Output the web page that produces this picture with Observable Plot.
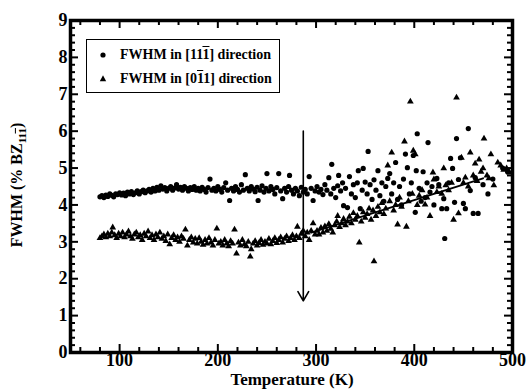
<!DOCTYPE html>
<html><head><meta charset="utf-8">
<script src="https://cdn.jsdelivr.net/npm/d3@7"></script>
<script src="https://cdn.jsdelivr.net/npm/@observablehq/plot@0.6"></script>
<style>
body{margin:0;background:#fff;}
#wrap{position:relative;width:526px;height:391px;font-family:"Liberation Serif","Times New Roman",serif;font-weight:bold;color:#000;}
#legend{position:absolute;left:86px;top:39px;width:192px;height:52px;border:1.5px solid #000;background:#fff;font-size:14px;}
.row{position:absolute;left:0;height:16px;line-height:16px;white-space:nowrap;}
.row svg{position:absolute;left:10px;top:2px;}
.row span.t{position:absolute;left:33px;top:0;}
.ov{text-decoration:overline;}
#xlab{position:absolute;left:0;width:526px;top:371px;line-height:17px;text-align:center;font-size:17px;padding-left:58px;box-sizing:border-box;}
#ylab{position:absolute;left:18px;top:185px;transform:translate(-50%,-50%) rotate(-90deg);font-size:16px;white-space:nowrap;}
#ylab sub{font-size:11px;}
</style></head>
<body><div id="wrap"><div id="chart"></div>
<div id="legend">
 <div class="row" style="top:7px"><svg width="12" height="12"><circle cx="6" cy="6" r="2.6" fill="#000"/></svg><span class="t">FWHM in [11<span class="ov">1</span>] direction</span></div>
 <div class="row" style="top:31px"><svg width="12" height="12"><path d="M6,2.2L9.2,8.2L2.8,8.2Z" fill="#000"/></svg><span class="t">FWHM in [0<span class="ov">1</span>1] direction</span></div>
</div>
<div id="xlab">Temperature (K)</div>
<div id="ylab">FWHM (% BZ<sub>11<span class="ov">1</span></sub>)</div>
</div>
<script>
// FWHM in [11-1] direction (circles)
const circT = [80,82,84,86,88,90,92,94,96,98,100,102,104,106,108,110,112,114,116,118,120,122,124,126,128,130,132,134,136,138,140,142,144,146,148,150,152,154,156,158,160,162,164,166,168,170,172,174,176,178,180,182,184,186,188,190,192,194,196,198,200,202,204,206,208,210,212,214,216,218,220,222,224,226,228,230,232,234,236,238,240,241,243,245,247,249,250,252,254,256,258,260,262,264,266,268,270,272,273,275,277,279,281,283,285,287,289,291,293,295,297,299,
301,303,305,307,309,311,313,315,316,318,320,322,323,325,327,328,330,332,334,336,338,340,342,343,345,347,348,350,352,353,355,357,359,361,363,365,367,369,371,373,375,377,379,381,383,385,387,389,391,393,395,397,399,401,402,403,405,407,409,411,413,414,416,418,420,423,425,428,430,431,433,435,437,439,441,443,445,447,450,452,455,457,460,462,465,470,475,480,490,495];
const circV = [4.22,4.25,4.2,4.27,4.23,4.3,4.26,4.22,4.3,4.28,4.33,4.27,4.32,4.25,4.35,4.3,4.36,4.28,4.33,4.38,4.3,4.36,4.4,4.33,4.38,4.42,4.35,4.45,4.38,4.48,4.4,4.52,4.43,4.47,4.38,4.45,4.5,4.4,4.46,4.55,4.43,4.48,4.4,4.5,4.45,4.38,4.47,4.42,4.5,4.4,4.45,4.38,4.48,4.42,4.35,4.47,4.7,4.4,4.45,4.38,4.5,4.42,4.35,4.47,4.6,4.4,4.12,4.45,4.38,4.5,4.42,4.35,4.55,4.4,4.82,4.45,4.38,4.5,4.43,4.36,4.48,4.12,4.4,4.52,4.35,4.45,4.85,4.38,4.5,4.42,4.3,4.47,4.85,4.38,4.17,4.45,4.35,4.5,4.8,4.4,4.3,4.45,4.38,4.25,4.48,4.35,4.42,4.3,4.77,4.45,4.12,4.38,
4.5,4.35,4.42,4.28,4.55,4.4,4.74,4.3,5.1,4.45,4.2,4.52,4.8,4.38,4.6,3.98,4.45,3.93,4.77,4.3,4.55,4.2,4.6,4.93,3.9,4.4,4.99,4.62,4.3,5.45,4.55,4.15,4.68,4.4,4.93,4.25,4.6,4.1,4.5,4.72,4.85,4.3,4.6,5.15,4.15,4.5,4.0,4.7,5.38,5.01,4.3,4.6,5.34,3.8,4.93,5.93,4.45,4.1,4.9,4.2,4.6,5.69,4.35,4.5,4.0,4.72,4.55,3.9,4.17,3.09,3.9,4.6,5.26,4.99,4.07,5.8,4.69,5.28,4.04,3.9,6.07,4.39,3.77,4.74,3.77,4.55,4.3,4.7,5.0,4.9];
// FWHM in [0-11] direction (triangles)
const triT = [80,82,84,86,88,90,92,93,95,97,99,101,103,105,107,109,111,113,115,117,119,121,123,125,127,129,131,133,135,137,139,141,143,145,147,149,151,153,155,157,159,161,163,165,167,169,171,173,175,177,179,181,183,185,187,189,191,193,195,197,199,201,203,205,207,209,211,213,215,217,219,221,223,225,227,229,231,233,234,236,238,240,242,244,246,248,250,252,254,256,258,260,262,264,266,268,270,272,274,276,278,280,281,283,285,287,289,291,293,295,297,299,
301,303,305,307,309,311,313,315,317,319,321,322,324,326,328,330,332,334,336,338,340,342,344,346,348,350,352,354,356,358,359,361,363,365,367,369,371,373,375,377,379,381,383,385,387,390,392,394,396,398,399,401,403,405,408,411,413,416,419,420,423,425,428,430,432,435,438,440,443,445,448,450,452,455,457,460,462,464,466,468,470,471,474,476,478,481,485,488,491,494,497];
const triV = [3.1,3.15,3.2,3.12,3.22,3.15,3.25,3.39,3.18,3.1,3.22,3.15,3.25,3.12,3.2,3.28,3.15,3.08,3.2,3.25,3.12,3.18,3.05,3.22,3.15,3.28,3.1,3.18,3.05,3.2,3.12,3.25,3.08,3.15,3.02,3.2,2.93,3.1,3.18,3.05,3.12,3.0,3.15,3.08,3.33,2.9,3.05,3.12,2.98,3.08,2.95,3.1,3.0,2.92,3.05,2.95,3.1,2.98,2.9,3.05,3.36,2.95,3.0,2.9,3.05,2.95,2.88,3.02,2.95,3.33,2.68,2.98,2.9,3.05,2.93,2.88,3.0,2.6,2.8,2.95,3.02,2.9,2.97,3.05,2.92,3.0,2.95,3.08,2.93,3.02,3.1,2.97,3.05,3.12,2.98,3.08,3.15,3.02,3.1,3.18,3.05,3.15,3.41,3.1,3.22,3.3,3.15,3.25,3.05,3.3,3.5,3.2,
3.3,3.2,3.38,3.25,3.42,3.3,3.48,3.35,3.25,3.45,3.55,3.7,3.4,3.5,3.62,3.45,3.55,3.68,3.5,3.78,3.6,3.7,2.98,3.55,3.8,3.65,3.75,3.9,3.6,3.85,2.47,3.7,3.95,3.8,4.05,3.75,3.9,5.07,4.1,5.42,3.85,4.0,3.47,4.2,3.95,5.72,3.41,4.1,6.8,4.3,5.47,5.37,4.0,4.25,4.4,4.01,4.2,3.7,4.88,4.69,4.35,4.5,4.3,4.99,4.53,4.4,4.6,3.6,6.91,3.77,5.28,4.6,4.74,4.5,5.42,4.8,5.12,4.65,5.23,4.9,4.99,5.8,4.8,4.72,5.37,4.53,5.15,5.07,4.95,4.99,4.88];
// linear fit through the [0-11] data
const fitT = [295, 470];
const fitV = [3.25, 4.72];
// arrow marking the transition temperature
const arrowT = [287];
const arrowFrom = [6.0];
const arrowTo = [1.4];
// ticks
const xMajor = [100,200,300,400,500];
const xMinor = [60,80,120,140,160,180,220,240,260,280,320,340,360,380,420,440,460,480];
const yMajor = [0,1,2,3,4,5,6,7,8,9];
const yMinor = [0.2,0.4,0.6,0.8,1.2,1.4,1.6,1.8,2.2,2.4,2.6,2.8,3.2,3.4,3.6,3.8,4.2,4.4,4.6,4.8,5.2,5.4,5.6,5.8,6.2,6.4,6.6,6.8,7.2,7.4,7.6,7.8,8.2,8.4,8.6,8.8];

const circles = circT.map((T,i)=>({T, v:circV[i]}));
const tris = triT.map((T,i)=>({T, v:triV[i]}));
const fit = fitT.map((T,i)=>({T, v:fitV[i]}));
const arrows = arrowT.map((T,i)=>({T, a:arrowFrom[i], b:arrowTo[i]}));

const W = 526, H = 391, mL = 70, mR = 14, mT = 20, mB = 39;
const pw = W - mL - mR, ph = H - mT - mB;
const tk = {stroke:"#000", strokeOpacity:1, strokeWidth:2};
const font = {fontWeight:"bold", fontSize:18, fontFamily:"'Liberation Serif','Times New Roman',serif", fill:"#000"};

const chart = Plot.plot({
  width:W, height:H,
  marginLeft:mL, marginRight:mR, marginTop:mT, marginBottom:mB,
  x:{domain:[50,500], label:null},
  y:{domain:[0,9], label:null},
  style:{fontFamily:"'Liberation Serif','Times New Roman',serif", fontWeight:"bold", fontSize:"18px", background:"#fff", color:"#000"},
  marks:[
    Plot.frame({stroke:"#000", strokeWidth:3.5}),
    Plot.dot(circles, {x:"T", y:"v", r:2.6, fill:"#000"}),
    Plot.dot(tris, {x:"T", y:"v", r:2.5, symbol:"triangle", fill:"#000"}),
    Plot.line(fit, {x:"T", y:"v", stroke:"#000", strokeWidth:2}),
    Plot.arrow(arrows, {x1:"T", x2:"T", y1:"a", y2:"b", stroke:"#000", strokeWidth:1.6, headLength:10, bend:0}),
    Plot.gridX(xMajor, {...tk, insetTop: ph - 8}),
    Plot.gridX(xMajor, {...tk, insetBottom: ph - 8}),
    Plot.gridX(xMinor, {...tk, insetTop: ph - 5}),
    Plot.gridX(xMinor, {...tk, insetBottom: ph - 5}),
    Plot.gridY(yMajor, {...tk, insetRight: pw - 8}),
    Plot.gridY(yMajor, {...tk, insetLeft: pw - 8}),
    Plot.gridY(yMinor, {...tk, insetRight: pw - 5}),
    Plot.gridY(yMinor, {...tk, insetLeft: pw - 5}),
    Plot.axisX(xMajor, {anchor:"bottom", tickSize:0, tickPadding:1, ...font}),
    Plot.axisY(yMajor, {anchor:"left", tickSize:0, tickPadding:3, ...font})
  ]
});
document.getElementById("chart").appendChild(chart);
</script>
</body></html>
